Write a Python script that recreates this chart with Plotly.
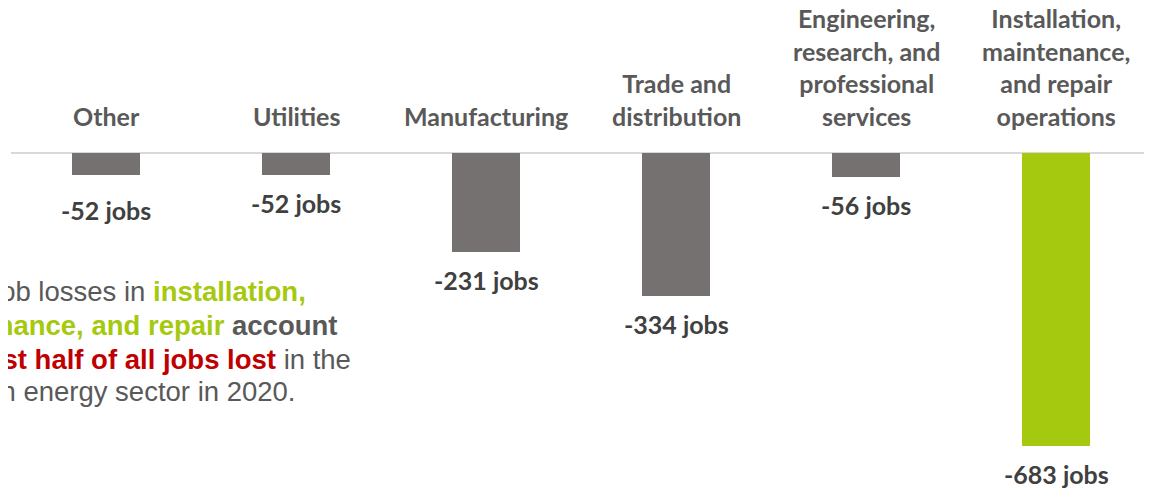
import plotly.graph_objects as go

categories = [
    "Other",
    "Utilities",
    "Manufacturing",
    "Trade and<br>distribution",
    "Engineering,<br>research, and<br>professional<br>services",
    "Installation,<br>maintenance,<br>and repair<br>operations",
]
job_change = [-52, -52, -231, -334, -56, -683]
value_labels = ["-52 jobs", "-52 jobs", "-231 jobs", "-334 jobs", "-56 jobs", "-683 jobs"]

# styling (not data)
GRAY_BAR = "#767171"
GREEN = "#A5C90F"
RED = "#C00000"
LABEL_GRAY = "#595959"
VALUE_GRAY = "#404040"
bar_colors = [GRAY_BAR] * 5 + [GREEN]
label_extra_shift = [-7, 0, 0, 0, 0, 0]

x_idx = list(range(len(categories)))

# page body has an 8px margin, figure sized to fit the viewport
FIG_W, FIG_H = 1144, 480

fig = go.Figure()
fig.add_trace(go.Bar(
    x=x_idx,
    y=job_change,
    width=0.36,
    marker=dict(color=bar_colors, line=dict(width=0)),
    hoverinfo="skip",
))

# category labels above the baseline
for i, cat in enumerate(categories):
    fig.add_annotation(
        x=i, y=0, xref="x", yref="y",
        text=f"<b>{cat}</b>",
        showarrow=False, yanchor="bottom", xanchor="center",
        yshift=20,
        font=dict(family="Lato", size=25, color=LABEL_GRAY),
        align="center",
    )

# value labels below each bar
for i, (v, lab) in enumerate(zip(job_change, value_labels)):
    fig.add_annotation(
        x=i, y=v, xref="x", yref="y",
        text=f"<b>{lab}</b>",
        showarrow=False, yanchor="top", xanchor="center",
        yshift=-11 + label_extra_shift[i],
        font=dict(family="Lato", size=25, color=VALUE_GRAY),
    )

# callout paragraph, one centred line at a time
para_lines = [
    f"The job losses in <b><span style='color:{GREEN}'>installation,</span></b>",
    f"<b><span style='color:{GREEN}'>maintenance, and repair</span></b> <b>account</b>",
    f"<b>for</b> <b><span style='color:{RED}'>almost half of all jobs lost</span></b> in the",
    "clean energy sector in 2020.",
]
line_centers_px = [283, 317, 351, 383]
for line, cy in zip(para_lines, line_centers_px):
    fig.add_annotation(
        x=(114.5 - 3) / 1140, y=1 - cy / FIG_H, xref="paper", yref="paper",
        text=line, showarrow=False, xanchor="center", yanchor="middle", align="center",
        font=dict(family="Liberation Sans, Arial", size=27.5, color=LABEL_GRAY),
    )

fig.update_xaxes(
    range=[-0.5, 5.5], showticklabels=False, showgrid=False, zeroline=False,
    showline=False, ticks="",
)
fig.update_yaxes(
    range=[-782, 338], showticklabels=False, showgrid=False,
    zeroline=True, zerolinecolor="#d9d9d9", zerolinewidth=2, showline=False, ticks="",
)
fig.update_layout(
    width=FIG_W, height=FIG_H,
    margin=dict(l=3, r=1, t=0, b=0),
    plot_bgcolor="white", paper_bgcolor="white",
    showlegend=False, bargap=0,
)

fig.write_html("out.html")
